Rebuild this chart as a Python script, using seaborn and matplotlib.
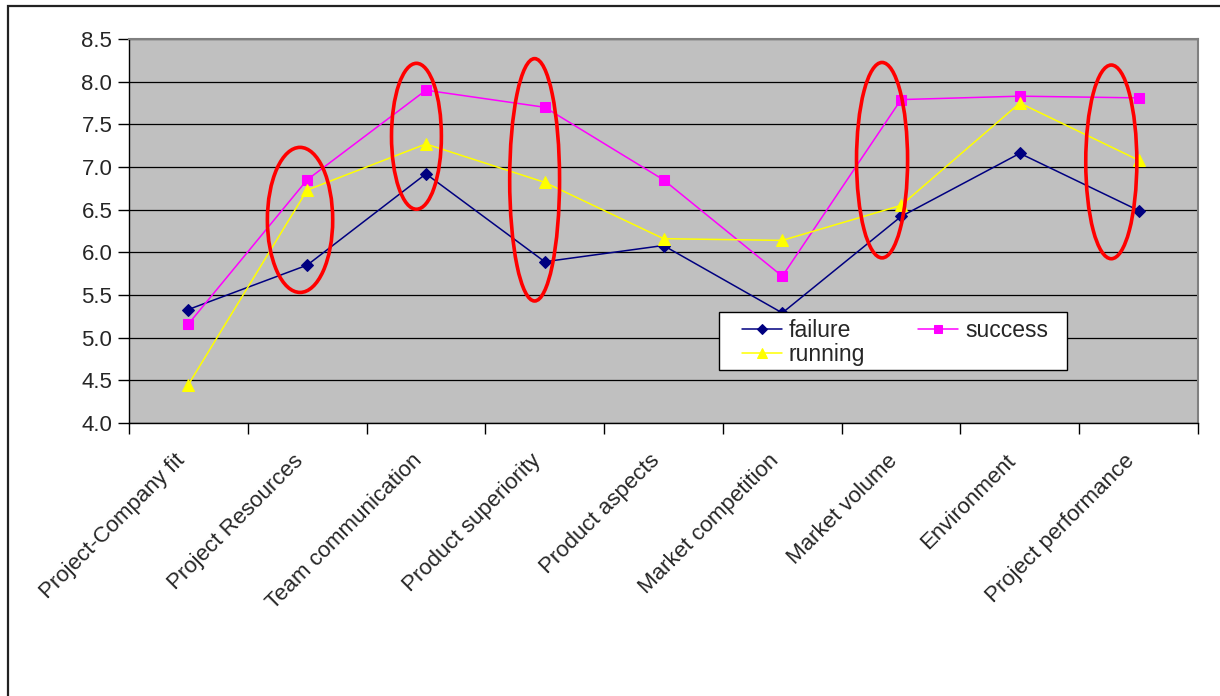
import numpy as np
import pandas as pd
import matplotlib
matplotlib.use("Agg")
import matplotlib.pyplot as plt
import matplotlib.transforms as mtransforms
from matplotlib.patches import Ellipse, Rectangle
import seaborn as sns

categories = ["Project-Company fit", "Project Resources", "Team communication",
              "Product superiority", "Product aspects", "Market competition",
              "Market volume", "Environment", "Project performance"]
failure = [5.33, 5.85, 6.92, 5.89, 6.08, 5.29, 6.42, 7.16, 6.49]
success = [5.16, 6.85, 7.90, 7.70, 6.85, 5.72, 7.79, 7.83, 7.81]
running = [4.45, 6.73, 7.27, 6.82, 6.16, 6.14, 6.55, 7.75, 7.08]
y_ticks = [4.0, 4.5, 5.0, 5.5, 6.0, 6.5, 7.0, 7.5, 8.0, 8.5]

# highlighted categories (red ellipses): category index offset, centre y, height
highlight_x = [0.94, 1.92, 2.915, 5.84, 7.77]
highlight_y = [6.38, 7.36, 6.85, 7.08, 7.06]
highlight_h = [1.70, 1.71, 2.84, 2.29, 2.27]
highlight_w = [0.55, 0.42, 0.42, 0.43, 0.43]

sns.set_theme(style="white")
plt.rcParams["font.family"] = ["Liberation Sans", "DejaVu Sans"]

fig = plt.figure(figsize=(12.2, 6.96), dpi=100)
ax = fig.add_axes([129 / 1220, 1 - 423 / 696, (1198 - 129) / 1220, (423 - 39) / 696])
ax.set_facecolor("#C0C0C0")

x = np.arange(len(categories))
series = [("failure", failure, "#000080", "D", 6.5),
          ("success", success, "#FF00FF", "s", 6.5),
          ("running", running, "#FFFF00", "^", 8)]
for name, vals, col, mk, ms in series:
    sns.lineplot(x=x, y=vals, ax=ax, color=col, marker=mk, markersize=ms,
                 markeredgecolor=col, markerfacecolor=col, linewidth=1.1,
                 label=name, sort=False, zorder=3)

for cx, cy, w, h in zip(highlight_x, highlight_y, highlight_w, highlight_h):
    ax.add_patch(Ellipse((cx, cy), w, h, fill=False, edgecolor="#FF0000",
                         linewidth=2.6, zorder=5))

ax.set_xlim(-0.5, len(categories) - 0.5)
ax.set_ylim(4.0, 8.5)
ax.set_yticks(y_ticks)
ax.set_yticklabels([f"{v:.1f}" for v in y_ticks], fontsize=16)
ax.set_xticks(np.arange(-0.5, len(categories), 1.0))
ax.set_xticklabels([])
ax.set_xticks(x, minor=True)
ax.set_xticklabels(categories, minor=True, rotation=45, ha="right",
                   va="center", rotation_mode="anchor", fontsize=16)
ax.tick_params(axis="x", which="major", direction="out", length=8, width=1,
               color="black", bottom=True)
ax.tick_params(axis="x", which="minor", length=0, pad=25)
ax.tick_params(axis="y", direction="out", length=8, width=1, color="black",
               left=True, pad=4)
shift = mtransforms.ScaledTranslation(-7 / 100, 0, fig.dpi_scale_trans)
for lbl in ax.get_xticklabels(minor=True):
    lbl.set_transform(lbl.get_transform() + shift)
ax.set_xlabel("")
ax.set_ylabel("")

ax.set_axisbelow(True)
ax.yaxis.grid(True, color="black", linewidth=0.9)
ax.xaxis.grid(False)
for side in ["left", "bottom"]:
    ax.spines[side].set_color("black")
    ax.spines[side].set_linewidth(1.0)
for side in ["top", "right"]:
    ax.spines[side].set_color("#808080")
    ax.spines[side].set_linewidth(1.5)

# legend box (white frame) and legend entries
ax.add_patch(Rectangle((0.552, 0.138), 0.325, 0.151, transform=ax.transAxes,
                       facecolor="white", edgecolor="black", linewidth=1.0,
                       zorder=6))
h, l = ax.get_legend_handles_labels()
order = [0, 2, 1]
leg = ax.legend([h[i] for i in order], [l[i] for i in order], ncol=2,
                loc="upper left", bbox_to_anchor=(0.5734, 0.2715),
                frameon=False, fontsize=16.5, handlelength=1.75,
                labelspacing=0.05, columnspacing=2.3, borderpad=0,
                handletextpad=0.3, markerscale=0.85, borderaxespad=0)
leg.set_zorder(7)

fig.patches.append(Rectangle((8 / 1220, -0.05), 1.2, 1.05 - 6 / 696,
                             transform=fig.transFigure, fill=False,
                             edgecolor="#222222", linewidth=1.6))

fig.savefig("out.png", dpi=100)
